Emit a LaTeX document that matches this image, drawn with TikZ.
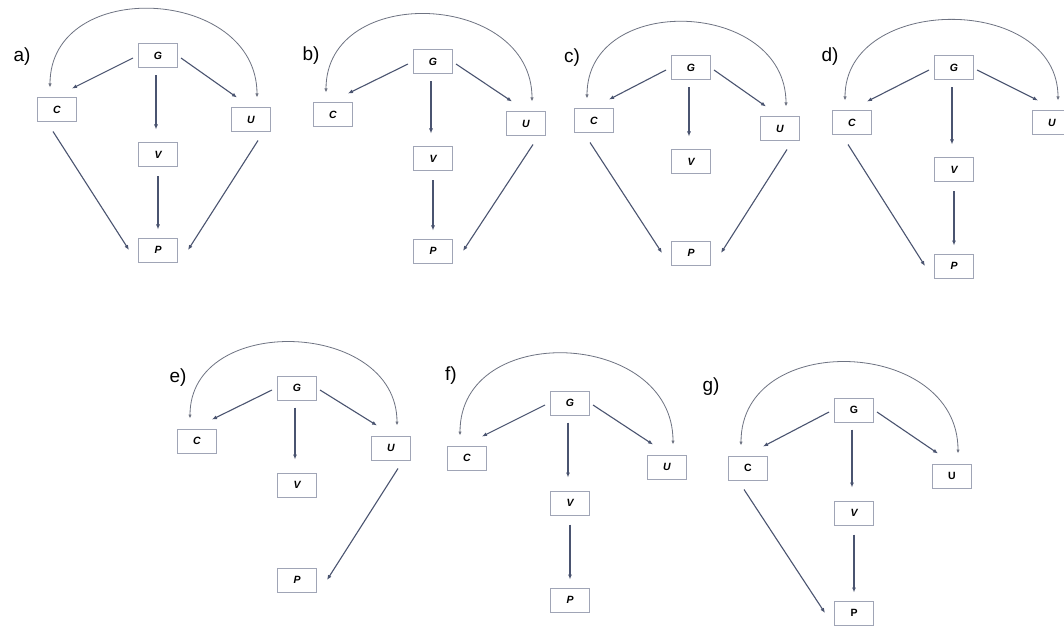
\documentclass[tikz,border=0pt]{standalone}
\usepackage{fontspec}
\setmainfont{Liberation Sans}
\usetikzlibrary{calc,arrows.meta}
\definecolor{edgec}{HTML}{4A5470}
\definecolor{arcc}{HTML}{6E7382}
\definecolor{boxc}{HTML}{A0A5B6}
\tikzset{
  varbox/.style={draw=boxc, line width=1pt, fill=white, minimum width=39pt,
    minimum height=24pt, inner sep=0pt, font=\fontsize{10.5}{12}\selectfont\bfseries\itshape},
  varboxup/.style={varbox, font=\fontsize{10.5}{12}\selectfont\bfseries},
  edge/.style={draw=edgec, line width=1.1pt, -{Latex[length=5pt,width=4pt]}},
  bidir/.style={draw=arcc, line width=0.8pt, {Latex[length=4pt,width=3.4pt]}-{Latex[length=4pt,width=3.4pt]}},
  panellabel/.style={font=\fontsize{19}{22}\selectfont, inner sep=0pt}
}
% edges of one panel; #1 is the panel prefix
\newcommand\eGC[1]{\draw[edge] ($(#1G.west)+(-5,2)$) -- ($(#1C.north east)+(-5,-9)$);}
\newcommand\eGU[1]{\draw[edge] ($(#1G.east)+(3,2)$) -- ($(#1U.north west)+(6,-10)$);}
\newcommand\eGV[1]{\draw[edge] ($(#1G.south)+(-2,7)$) -- ($(#1V.north)+(-2,-13)$);}
\newcommand\eVP[1]{\draw[edge] ($(#1V.south)+(0,9)$) -- ($(#1P.north)+(0,-8)$);}
\newcommand\eCP[1]{\draw[edge] ($(#1C.south)+(-4,9)$) -- ($(#1P.west)+(-9,0)$);}
\newcommand\eUP[1]{\draw[edge] ($(#1U.south)+(7,8)$) -- ($(#1P.east)+(10,0)$);}
% curved C<->U link over the top; #2 is the control length
\newcommand\eCU[2]{\draw[bidir] ($(#1C.north)+(-7,-10)$) .. controls +(0,-#2) and +(0,-#2) .. ($(#1U.north)+(6,-10)$);}
\begin{document}
\begin{tikzpicture}[x=1pt,y=-1pt]
\useasboundingbox (0,0) rectangle (1064,628);
\fill[white] (0,0) rectangle (1064,628);

% ---- a)
\node[panellabel] (la) at (22,57) {a)};
\node[varbox] (aG) at (158,56) {G};
\node[varbox] (aC) at (57,110) {C};
\node[varbox] (aU) at (251,120) {U};
\node[varbox] (aV) at (158,155) {V};
\node[varbox] (aP) at (158,250) {P};
\eGC{a}\eGU{a}\eGV{a}\eVP{a}\eCP{a}\eUP{a}\eCU{a}{111}

% ---- b)
\node[panellabel] (lb) at (311,56) {b)};
\node[varbox] (bG) at (433,62) {G};
\node[varbox] (bC) at (333,115) {C};
\node[varbox] (bU) at (526,124) {U};
\node[varbox] (bV) at (433,159) {V};
\node[varbox] (bP) at (433,251) {P};
\eGC{b}\eGU{b}\eGV{b}\eVP{b}\eUP{b}\eCU{b}{110}

% ---- c)
\node[panellabel] (lc) at (572,58) {c)};
\node[varbox] (cG) at (691,68) {G};
\node[varbox] (cC) at (594,121) {C};
\node[varbox] (cU) at (780,129) {U};
\node[varbox] (cV) at (691,162) {V};
\node[varbox] (cP) at (691,253) {P};
\eGC{c}\eGU{c}\eGV{c}\eCP{c}\eUP{c}\eCU{c}{107}

% ---- d)
\node[panellabel] (ld) at (830,57) {d)};
\node[varbox] (dG) at (954,68) {G};
\node[varbox] (dC) at (852,123) {C};
\node[varbox] (dU) at (1052,123) {U};
\node[varbox] (dV) at (954,170) {V};
\node[varbox] (dP) at (954,266) {P};
\eGC{d}\eGU{d}\eGV{d}\eVP{d}\eCP{d}\eCU{d}{107}

% ---- e)
\node[panellabel] (le) at (178,378) {e)};
\node[varbox] (eG) at (297,388) {G};
\node[varbox] (eC) at (197,441) {C};
\node[varbox] (eU) at (391,448) {U};
\node[varbox] (eV) at (297,485) {V};
\node[varbox] (eP) at (297,580) {P};
\eGC{e}\eGU{e}\eGV{e}\eUP{e}\eCU{e}{106}

% ---- f)
\node[panellabel] (lf) at (451,376) {f)};
\node[varbox] (fG) at (570,403) {G};
\node[varbox] (fC) at (467,458) {C};
\node[varbox] (fU) at (667,467) {U};
\node[varbox] (fV) at (570,503) {V};
\node[varbox] (fP) at (570,600) {P};
\eGC{f}\eGU{f}\eGV{f}\eVP{f}\eCU{f}{115}

% ---- g)
\node[panellabel] (lg) at (711,387) {g)};
\node[varboxup] (gG) at (854,410) {G};
\node[varboxup] (gC) at (748,468) {C};
\node[varboxup] (gU) at (952,476) {U};
\node[varbox] (gV) at (854,513) {V};
\node[varboxup] (gP) at (854,613) {P};
\eGC{g}\eGU{g}\eGV{g}\eVP{g}\eCP{g}\eCU{g}{116}
\end{tikzpicture}
\end{document}
